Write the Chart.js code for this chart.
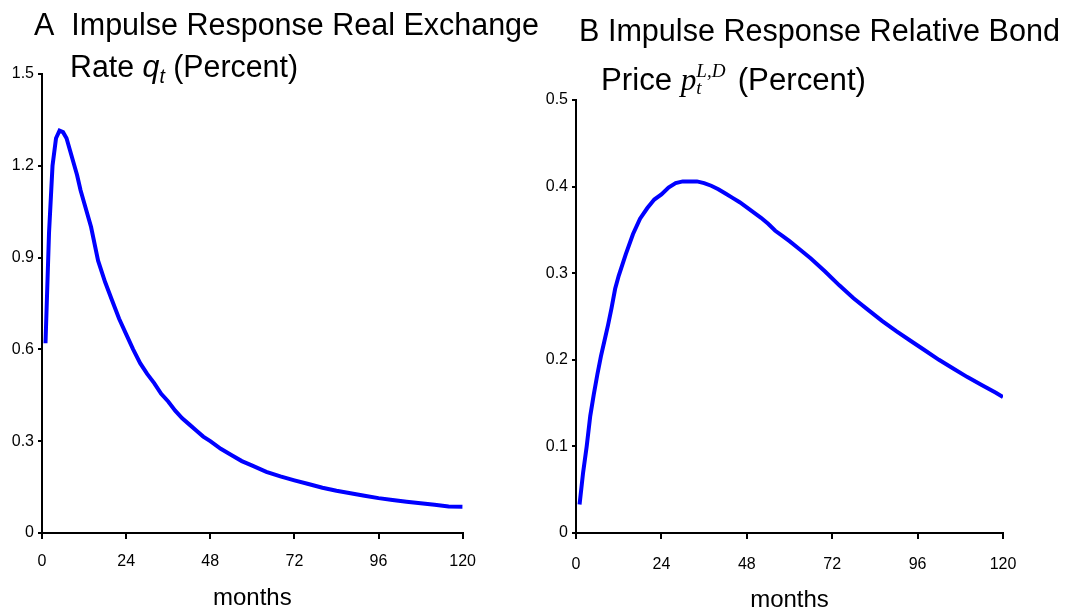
<!DOCTYPE html>
<html lang="en">
<head>
<meta charset="UTF-8">
<title>Impulse Responses</title>
<script src="https://cdn.jsdelivr.net/npm/chart.js"></script>
<style>
    body { margin: 0; background: #fff; width: 1065px; height: 613px; position: relative; overflow: hidden;
           font-family: 'Liberation Sans', Arial, sans-serif; }
    .box { position: absolute; top: 0; height: 613px; }
    .ttl { position: absolute; white-space: nowrap; font-size: 31px; line-height: 31px; color: #000;
           transform-origin: 0 0; z-index: 2; }
    .mq { font-style: italic; }
    .mq sub { font-size: 20px; vertical-align: -6px; line-height: 0; }
    .mp { font-family: 'Liberation Serif', 'DejaVu Serif', serif; font-style: italic; }
    .ss { display: inline-flex; flex-direction: column; vertical-align: 13px; font-size: 19px; line-height: 17px;
          font-family: 'Liberation Serif', 'DejaVu Serif', serif; font-style: italic; margin-right: 12px; }
</style>
</head>
<body>
    <div class="ttl" data-w="505" style="left:34px; top:9px">A&nbsp; Impulse Response Real Exchange</div>
    <div class="ttl" data-w="228" style="left:70px; top:51px">Rate <span class="mq">q<sub>t</sub></span> (Percent)</div>
    <div class="ttl" data-w="481" style="left:579px; top:15px">B Impulse Response Relative Bond</div>
    <div class="ttl" data-w="265" style="left:601px; top:62px">Price <span class="mp">p</span><span class="ss"><span>L,D</span><span>t</span></span>(Percent)</div>

    <div class="box" style="left:0; width:489px"><canvas id="rateChart"></canvas></div>
    <div class="box" style="left:500px; width:565px"><canvas id="bondChart"></canvas></div>

<script>
    // Panel A: real exchange rate response (percent), by month
    var monthsA = [1, 2, 3, 4, 5, 6, 7, 8, 9, 10, 11, 12, 14, 16, 18, 20, 22, 24, 26, 28, 30, 32, 34, 36, 38, 40,
                   42, 44, 46, 48, 51, 54, 57, 60, 64, 68, 72, 76, 80, 84, 88, 92, 96, 100, 104, 108, 112, 116, 120];
    var rateA = [0.62, 0.98, 1.20, 1.29, 1.315, 1.31, 1.29, 1.25, 1.21, 1.17, 1.12, 1.08, 1.00, 0.89, 0.82, 0.76,
                 0.70, 0.65, 0.60, 0.555, 0.52, 0.49, 0.455, 0.43, 0.40, 0.375, 0.355, 0.335, 0.315, 0.30,
                 0.275, 0.255, 0.235, 0.22, 0.20, 0.185, 0.172, 0.16, 0.148, 0.138, 0.13, 0.122, 0.114,
                 0.108, 0.102, 0.097, 0.092, 0.087, 0.086];

    // Panel B: relative bond price response (percent), by month
    var monthsB = [1, 2, 3, 4, 5, 6, 7, 8, 9, 10, 11, 12, 14, 16, 18, 20, 22, 24, 26, 28, 30, 32, 34, 36, 38, 40,
                   42, 44, 46, 48, 50, 52, 54, 56, 58, 60, 63, 66, 70, 74, 78, 82, 86, 90, 94, 98, 102, 106,
                   110, 114, 118, 120];
    var bondB = [0.033, 0.07, 0.10, 0.135, 0.16, 0.183, 0.204, 0.222, 0.24, 0.26, 0.282, 0.297, 0.322, 0.345,
                 0.363, 0.375, 0.385, 0.391, 0.399, 0.404, 0.406, 0.406, 0.406, 0.404, 0.401, 0.397, 0.392,
                 0.387, 0.382, 0.376, 0.370, 0.364, 0.357, 0.349, 0.343, 0.337, 0.327, 0.317, 0.302, 0.286,
                 0.271, 0.258, 0.245, 0.233, 0.222, 0.211, 0.200, 0.190, 0.180, 0.171, 0.162, 0.157];

    var xStep = 24;
    var tickFont = { family: "'Liberation Sans'", size: 16 };

    function fmt(v) {
        return v === 0 ? '0' : String(Math.round(v * 10) / 10);
    }

    function makeChart(id, xs, ys, yMax, yStep, yWidth, pad, xPad, titleBottom) {
        var points = xs.map(function (m, i) { return { x: m, y: ys[i] }; });
        return new Chart(document.getElementById(id), {
            type: 'line',
            data: {
                datasets: [{
                    data: points,
                    borderColor: '#0000ff',
                    borderWidth: 4,
                    pointRadius: 0,
                    fill: false,
                    tension: 0
                }]
            },
            options: {
                responsive: true,
                maintainAspectRatio: false,
                animation: false,
                layout: { padding: pad },
                plugins: { legend: { display: false }, tooltip: { enabled: false } },
                scales: {
                    x: {
                        type: 'linear', min: 0, max: 120,
                        ticks: { stepSize: xStep, color: '#000', font: tickFont, padding: xPad, maxRotation: 0 },
                        grid: { drawOnChartArea: false, color: '#000', lineWidth: 2, tickLength: 6 },
                        border: { color: '#000', width: 2 },
                        title: { display: true, text: 'months', color: '#000',
                                 font: { family: "'Liberation Sans'", size: 24 },
                                 padding: { top: 0, bottom: titleBottom } },
                        afterFit: function (s) { s.height = 80; }
                    },
                    y: {
                        min: 0, max: yMax,
                        ticks: { stepSize: yStep, color: '#000', font: tickFont, padding: 4, callback: fmt },
                        grid: { drawOnChartArea: false, color: '#000', lineWidth: 2, tickLength: 4 },
                        border: { color: '#000', width: 2 },
                        afterFit: function (s) { s.width = yWidth; }
                    }
                }
            }
        });
    }

    makeChart('rateChart', monthsA, rateA, 1.5, 0.3, 42, { top: 74, right: 0, bottom: 0, left: 0 }, 13, 0);
    makeChart('bondChart', monthsB, bondB, 0.5, 0.1, 76, { top: 100, right: 62, bottom: 0, left: 0 }, 16, -2);

    // squeeze the titles to the widths they have in the figure
    document.querySelectorAll('.ttl').forEach(function (el) {
        var w = el.getBoundingClientRect().width;
        el.style.transform = 'scaleX(' + (el.dataset.w / w) + ')';
    });
</script>
</body>
</html>
